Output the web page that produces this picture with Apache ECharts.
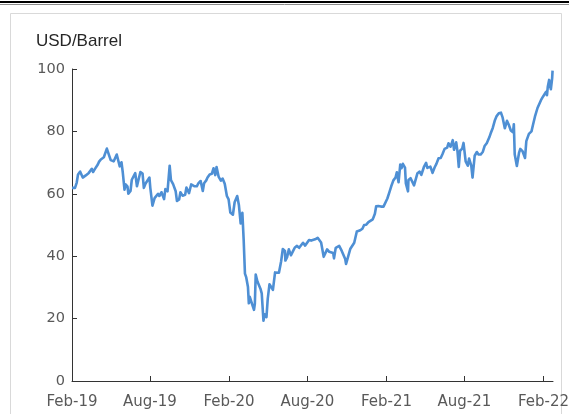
<!DOCTYPE html>
<html>
<head>
<meta charset="utf-8">
<script src="https://cdn.jsdelivr.net/npm/echarts@6/dist/echarts.min.js"></script>
<style>
html,body{margin:0;padding:0;background:#fff;}
#chart{width:569px;height:414px;}
</style>
</head>
<body>
<div id="chart"></div>
<script>
// Axis ticks
var tickDates = ['2019-02-01','2019-08-01','2020-02-01','2020-08-01','2021-02-01','2021-08-01','2022-02-01'];
var tickLabels = ['Feb-19','Aug-19','Feb-20','Aug-20','Feb-21','Aug-21','Feb-22'];
var yTicks = [0, 20, 40, 60, 80, 100];
var unitLabel = 'USD/Barrel';

// Brent price series
var dates = [
'2019-02-01','2019-02-05','2019-02-08','2019-02-12','2019-02-15','2019-02-20','2019-02-22','2019-02-26',
'2019-03-01','2019-03-05','2019-03-08','2019-03-12','2019-03-15','2019-03-19','2019-03-22','2019-03-26','2019-03-29',
'2019-04-02','2019-04-05','2019-04-09','2019-04-12','2019-04-16','2019-04-19','2019-04-23','2019-04-25','2019-04-29',
'2019-05-02','2019-05-06','2019-05-09','2019-05-13','2019-05-16','2019-05-20','2019-05-23','2019-05-27','2019-05-30',
'2019-06-03','2019-06-06','2019-06-10','2019-06-12','2019-06-17','2019-06-20','2019-06-24','2019-06-28',
'2019-07-02','2019-07-05','2019-07-10','2019-07-15','2019-07-18','2019-07-22','2019-07-26','2019-07-31',
'2019-08-02','2019-08-07','2019-08-12','2019-08-15','2019-08-20','2019-08-23','2019-08-28',
'2019-09-03','2019-09-06','2019-09-11','2019-09-13','2019-09-16','2019-09-19','2019-09-24','2019-09-30',
'2019-10-03','2019-10-08','2019-10-11','2019-10-16','2019-10-22','2019-10-25','2019-10-31',
'2019-11-05','2019-11-08','2019-11-13','2019-11-18','2019-11-22','2019-11-27',
'2019-12-02','2019-12-05','2019-12-10','2019-12-13','2019-12-18','2019-12-23','2019-12-27','2019-12-31',
'2020-01-03','2020-01-06','2020-01-08','2020-01-13','2020-01-17','2020-01-22','2020-01-27','2020-01-31',
'2020-02-04','2020-02-10','2020-02-14','2020-02-20','2020-02-24','2020-02-28',
'2020-03-03','2020-03-06','2020-03-09','2020-03-12','2020-03-16','2020-03-18','2020-03-20','2020-03-24','2020-03-30',
'2020-04-01','2020-04-03','2020-04-07','2020-04-09','2020-04-14','2020-04-17','2020-04-21','2020-04-24','2020-04-28',
'2020-05-01','2020-05-05','2020-05-08','2020-05-13','2020-05-18','2020-05-22','2020-05-27',
'2020-06-01','2020-06-05','2020-06-10','2020-06-11','2020-06-15','2020-06-19','2020-06-24','2020-06-29',
'2020-07-03','2020-07-08','2020-07-13','2020-07-17','2020-07-22','2020-07-27','2020-07-31',
'2020-08-05','2020-08-10','2020-08-14','2020-08-19','2020-08-25','2020-08-28',
'2020-09-02','2020-09-08','2020-09-11','2020-09-16','2020-09-21','2020-09-25','2020-09-30',
'2020-10-02','2020-10-06','2020-10-09','2020-10-14','2020-10-20','2020-10-23','2020-10-28','2020-10-30',
'2020-11-02','2020-11-06','2020-11-09','2020-11-13','2020-11-18','2020-11-24','2020-11-27',
'2020-12-02','2020-12-07','2020-12-11','2020-12-16','2020-12-21','2020-12-24','2020-12-31',
'2021-01-05','2021-01-08','2021-01-13','2021-01-19','2021-01-25','2021-01-29',
'2021-02-03','2021-02-08','2021-02-12','2021-02-17','2021-02-22','2021-02-25',
'2021-03-01','2021-03-05','2021-03-08','2021-03-11','2021-03-16','2021-03-18','2021-03-23','2021-03-24','2021-03-29',
'2021-04-01','2021-04-06','2021-04-09','2021-04-14','2021-04-19','2021-04-23','2021-04-29',
'2021-05-04','2021-05-07','2021-05-11','2021-05-14','2021-05-19','2021-05-24','2021-05-28',
'2021-06-02','2021-06-07','2021-06-11','2021-06-16','2021-06-22','2021-06-25','2021-06-30',
'2021-07-05','2021-07-08','2021-07-13','2021-07-16','2021-07-19','2021-07-22','2021-07-27','2021-07-30',
'2021-08-04','2021-08-09','2021-08-12','2021-08-17','2021-08-20','2021-08-25','2021-08-30',
'2021-09-03','2021-09-08','2021-09-13','2021-09-17','2021-09-22','2021-09-28',
'2021-10-01','2021-10-06','2021-10-11','2021-10-15','2021-10-20','2021-10-25','2021-10-29',
'2021-11-03','2021-11-08','2021-11-12','2021-11-17','2021-11-22','2021-11-24','2021-11-26',
'2021-12-01','2021-12-06','2021-12-09','2021-12-14','2021-12-20','2021-12-23','2021-12-29',
'2022-01-04','2022-01-07','2022-01-12','2022-01-18','2022-01-21','2022-01-26','2022-01-31',
'2022-02-03','2022-02-07','2022-02-09','2022-02-11','2022-02-14','2022-02-16','2022-02-18','2022-02-21','2022-02-22'
];
var prices = [
61.9,61.5,61.9,63.6,66.2,67.1,67.1,65.2,
65.1,65.9,65.7,66.7,67.2,68.0,67.0,67.9,68.4,
69.4,70.3,71.0,71.6,71.7,71.9,74.5,74.6,72.0,
70.8,71.2,70.4,70.2,72.6,72.0,68.8,70.1,66.9,
61.3,63.0,62.3,60.0,60.9,64.5,64.9,66.6,
62.4,64.2,67.0,66.5,61.9,63.3,63.5,65.2,
61.9,56.2,58.6,58.2,60.0,59.3,60.5,
58.3,61.5,60.8,60.2,69.0,64.4,63.1,60.8,
57.7,58.2,60.5,59.4,59.7,62.0,60.2,
63.0,62.5,62.4,62.4,63.4,64.1,
60.9,63.4,64.3,65.2,66.2,66.4,68.2,66.0,
68.6,68.9,65.4,64.2,64.9,63.2,59.3,58.2,
54.0,53.3,57.3,59.3,56.3,50.5,
53.9,45.3,34.4,33.2,30.1,24.9,27.0,27.2,22.8,
24.7,34.1,31.9,31.5,29.6,28.1,19.3,21.4,20.5,
26.4,31.0,31.0,29.2,34.8,35.1,34.7,
38.3,42.3,41.7,38.6,39.7,42.2,40.3,41.7,
42.8,43.3,42.7,43.1,44.3,43.4,43.3,
45.2,45.0,44.8,45.4,45.9,45.8,
44.4,39.8,39.8,42.2,41.4,41.9,41.0,
39.3,42.7,42.9,43.3,41.7,41.8,39.1,37.5,
39.0,39.5,42.4,42.8,44.3,47.9,48.2,
48.3,48.8,50.0,50.1,50.9,51.3,51.8,
53.6,56.0,56.1,55.9,55.9,55.9,
58.5,60.6,62.4,64.3,65.2,66.9,
63.7,69.4,68.2,69.6,68.4,63.3,60.8,64.4,65.0,
64.9,62.7,63.0,66.6,67.1,66.1,68.6,
69.9,68.3,68.6,68.7,66.7,68.5,69.6,
71.4,71.5,72.7,74.4,74.8,76.2,75.1,
77.2,74.1,76.5,73.6,68.6,73.8,74.5,76.3,
70.4,69.0,71.3,69.0,65.2,72.2,73.4,
72.6,72.6,73.5,75.3,76.2,78.1,
79.3,81.1,83.6,84.9,85.8,86.0,84.4,
81.0,83.4,82.2,80.3,79.7,82.3,72.7,
68.9,73.1,74.4,73.7,71.5,76.9,79.2,
80.0,81.8,84.7,87.5,87.9,90.0,91.2,
91.1,92.7,91.6,94.4,96.5,94.8,93.5,97.0,99.5
];

function toTime(s) {
  var p = s.split('-').map(Number);
  return Date.UTC(p[0], p[1] - 1, p[2]);
}
var tickTimes = tickDates.map(toTime);
var seriesData = dates.map(function (d, i) { return [toTime(d), prices[i]]; });

var chart = echarts.init(document.getElementById('chart'), null, {renderer: 'canvas'});
var axisColor = '#333333';
var labelColor = '#595959';
var option = {
  backgroundColor: '#ffffff',
  animation: false,
  title: {
    text: unitLabel,
    left: 36,
    top: 33,
    padding: 0,
    textStyle: {fontFamily: 'Liberation Sans, Arial, sans-serif', fontSize: 17, fontWeight: 'normal', color: '#262626'}
  },
  graphic: [
    {type: 'rect', silent: true, z: -10, shape: {x: 10.5, y: 13.5, width: 551, height: 420},
     style: {fill: 'none', stroke: '#d9d9d9', lineWidth: 1}},
    {type: 'line', silent: true, shape: {x1: 0, y1: 2, x2: 569, y2: 2}, style: {stroke: '#000', lineWidth: 2}},
    {type: 'line', silent: true, shape: {x1: 0, y1: 4.5, x2: 569, y2: 4.5}, style: {stroke: '#8c8c8c', lineWidth: 1}}
  ],
  grid: {left: 72, right: 16, top: 69, bottom: 33, containLabel: false, outerBoundsMode: 'none'},
  xAxis: {
    type: 'value',
    min: toTime('2019-02-01'),
    max: toTime('2022-02-23'),
    scale: true,
    splitLine: {show: false},
    axisLine: {show: true, onZero: false, lineStyle: {color: axisColor, width: 1}},
    axisTick: {show: true, inside: true, length: 5, customValues: tickTimes, lineStyle: {color: axisColor}},
    axisLabel: {
      customValues: tickTimes,
      hideOverlap: false,
      margin: 14,
      color: labelColor,
      fontFamily: 'DejaVu Sans, sans-serif',
      fontSize: 15,
      formatter: function (v) {
        for (var i = 0; i < tickTimes.length; i++) {
          if (Math.abs(tickTimes[i] - v) < 43200000) return tickLabels[i];
        }
        return '';
      }
    }
  },
  yAxis: {
    type: 'value',
    min: yTicks[0],
    max: yTicks[yTicks.length - 1],
    interval: 20,
    splitLine: {show: false},
    axisLine: {show: true, lineStyle: {color: axisColor, width: 1}},
    axisTick: {show: true, inside: true, length: 5, lineStyle: {color: axisColor}},
    axisLabel: {margin: 7, color: labelColor, fontFamily: 'DejaVu Sans, sans-serif', fontSize: 14.5}
  },
  series: [{
    type: 'line',
    data: seriesData,
    showSymbol: false,
    symbol: 'none',
    clip: false,
    lineStyle: {color: '#4e8fd4', width: 2.6, join: 'round'}
  }]
};
chart.setOption(option);
</script>
</body>
</html>
